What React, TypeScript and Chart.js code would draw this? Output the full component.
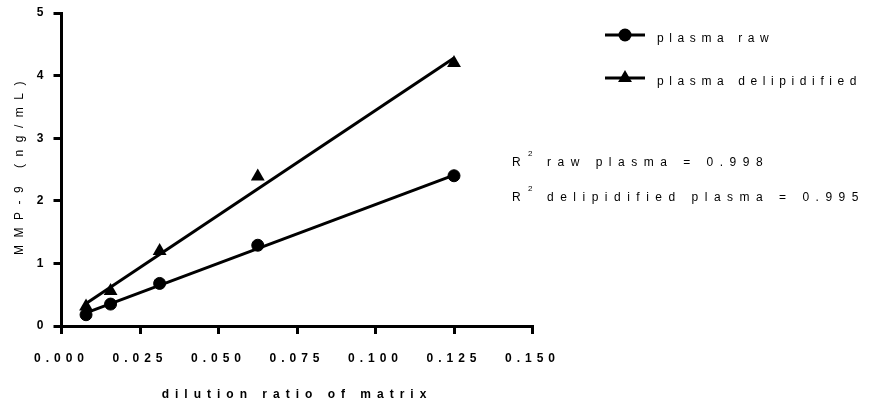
import React, { useEffect, useRef } from 'react';
import { Chart, registerables } from 'chart.js';

Chart.register(...registerables);

// ---- data ----
const dilutionRatio = [0.0078125, 0.015625, 0.03125, 0.0625, 0.125];
const plasmaRaw = [0.18, 0.35, 0.68, 1.29, 2.4];
const plasmaDelipidified = [0.31, 0.56, 1.2, 2.39, 4.2];
const fitRange = [0.0078125, 0.125];
const fitRaw = [0.21, 2.41];
const fitDelipidified = [0.36, 4.28];
const xTickValues = [0, 0.025, 0.05, 0.075, 0.1, 0.125, 0.15];
const yTickValues = [0, 1, 2, 3, 4, 5];
const seriesNames = ['plasma raw', 'plasma delipidified'];
const seriesMarkers = ['circle', 'triangle'];
const r2Texts = ['raw plasma = 0.998', 'delipidified plasma = 0.995'];
const xTitle = 'dilution ratio of matrix';
const yTitle = 'MMP-9 (ng/mL)';

const FONT = '"Liberation Sans", Arial, Helvetica, sans-serif';
const TICK_SPACING = '5px';

function drawMarker(ctx: CanvasRenderingContext2D, style: string, x: number, y: number) {
  ctx.beginPath();
  if (style === 'circle') {
    ctx.arc(x, y, 6.5, 0, Math.PI * 2);
  } else {
    const r = 8;
    for (let k = 0; k < 3; k++) {
      const a = (k * 2 * Math.PI) / 3;
      const px = x + Math.sin(a) * r;
      const py = y - Math.cos(a) * r;
      if (k === 0) ctx.moveTo(px, py);
      else ctx.lineTo(px, py);
    }
    ctx.closePath();
  }
  ctx.fill();
}

function wrapTitle(scale: any, spacing: string, dy: number) {
  if (!scale || scale.__wrapped) return;
  const orig = scale.drawTitle;
  scale.drawTitle = function (...args: any[]) {
    const ctx = this.ctx;
    ctx.save();
    ctx.letterSpacing = spacing;
    ctx.translate(0, dy);
    orig.apply(this, args);
    ctx.restore();
  };
  scale.__wrapped = true;
}

const overlayPlugin = {
  id: 'overlay',
  beforeLayout(chart: any) {
    chart.ctx.letterSpacing = TICK_SPACING;
  },
  beforeDraw(chart: any) {
    chart.ctx.letterSpacing = TICK_SPACING;
    wrapTitle(chart.scales.x, '6px', 0);
    wrapTitle(chart.scales.y, '7.5px', -5);
  },
  afterDraw(chart: any) {
    const ctx: CanvasRenderingContext2D = chart.ctx;
    ctx.save();
    (ctx as any).letterSpacing = '5.6px';
    ctx.fillStyle = '#000';
    ctx.strokeStyle = '#000';
    ctx.textAlign = 'left';
    ctx.textBaseline = 'alphabetic';
    // legend
    const legendY = [35, 78];
    seriesNames.forEach((name, i) => {
      const y = legendY[i];
      ctx.lineWidth = 3;
      ctx.beginPath();
      ctx.moveTo(605, y);
      ctx.lineTo(645, y);
      ctx.stroke();
      drawMarker(ctx, seriesMarkers[i], 625, y);
      ctx.font = `12px ${FONT}`;
      ctx.fillText(name, 657, y + 7);
    });
    // R squared annotations
    (ctx as any).letterSpacing = '6.5px';
    const r2Y = [166, 201];
    r2Texts.forEach((t, i) => {
      const y = r2Y[i];
      ctx.font = `12px ${FONT}`;
      ctx.fillText('R', 512, y);
      ctx.font = `8px ${FONT}`;
      ctx.fillText('2', 528, y - 10);
      ctx.font = `12px ${FONT}`;
      ctx.fillText(t, 547, y);
    });
    ctx.restore();
  },
};

export default function App() {
  const canvasRef = useRef<HTMLCanvasElement | null>(null);

  useEffect(() => {
    if (!canvasRef.current) return;
    const black = '#000';
    const chart = new Chart(canvasRef.current, {
      type: 'scatter',
      data: {
        datasets: [
          {
            label: seriesNames[0],
            data: dilutionRatio.map((x, i) => ({ x, y: plasmaRaw[i] })),
            pointStyle: 'circle',
            pointRadius: 6,
            borderWidth: 1,
            backgroundColor: black,
            borderColor: black,
            showLine: false,
          },
          {
            label: seriesNames[1],
            data: dilutionRatio.map((x, i) => ({ x, y: plasmaDelipidified[i] })),
            pointStyle: 'triangle',
            pointRadius: 8,
            borderWidth: 0,
            backgroundColor: black,
            borderColor: black,
            showLine: false,
          },
          {
            label: 'fit raw',
            data: fitRange.map((x, i) => ({ x, y: fitRaw[i] })),
            showLine: true,
            pointRadius: 0,
            borderWidth: 3,
            borderColor: black,
          },
          {
            label: 'fit delipidified',
            data: fitRange.map((x, i) => ({ x, y: fitDelipidified[i] })),
            showLine: true,
            pointRadius: 0,
            borderWidth: 3,
            borderColor: black,
          },
        ],
      },
      options: {
        animation: false,
        responsive: true,
        maintainAspectRatio: false,
        layout: { padding: { top: 13, right: 338.5, left: 0, bottom: 0 } },
        plugins: {
          legend: { display: false },
          tooltip: { enabled: false },
        },
        scales: {
          x: {
            type: 'linear',
            min: 0,
            max: 0.15,
            afterBuildTicks: (s: any) => {
              s.ticks = xTickValues.map((v) => ({ value: v }));
            },
            afterFit: (s: any) => {
              s.height = 76;
            },
            ticks: {
              callback: (v: any) => Number(v).toFixed(3),
              font: { family: FONT, size: 12, weight: 'bold' },
              color: black,
              padding: 17,
              maxRotation: 0,
              autoSkip: false,
            },
            grid: {
              drawOnChartArea: false,
              drawTicks: true,
              tickLength: 8,
              lineWidth: 3,
              color: black,
            },
            border: { color: black, width: 3 },
            title: {
              display: true,
              text: xTitle,
              font: { family: FONT, size: 12, weight: 'bold' },
              color: black,
              padding: { top: 0, bottom: 0 },
            },
          },
          y: {
            type: 'linear',
            min: 0,
            max: 5,
            afterBuildTicks: (s: any) => {
              s.ticks = yTickValues.map((v) => ({ value: v }));
            },
            afterFit: (s: any) => {
              s.width = 61.5;
            },
            ticks: {
              callback: (v: any) => String(v),
              font: { family: FONT, size: 12, weight: 'bold' },
              color: black,
              padding: 5,
            },
            grid: {
              drawOnChartArea: false,
              drawTicks: true,
              tickLength: 8,
              lineWidth: 3,
              color: black,
            },
            border: { color: black, width: 3 },
            title: {
              display: true,
              text: yTitle,
              font: { family: FONT, size: 12, weight: 'normal' },
              color: black,
              padding: { top: 12, bottom: 0 },
            },
          },
        },
      },
      plugins: [overlayPlugin],
    } as any);
    return () => chart.destroy();
  }, []);

  return (
    <div style={{ position: 'fixed', left: 0, top: 0, width: 871, height: 402, background: '#fff' }}>
      <canvas ref={canvasRef} />
    </div>
  );
}
